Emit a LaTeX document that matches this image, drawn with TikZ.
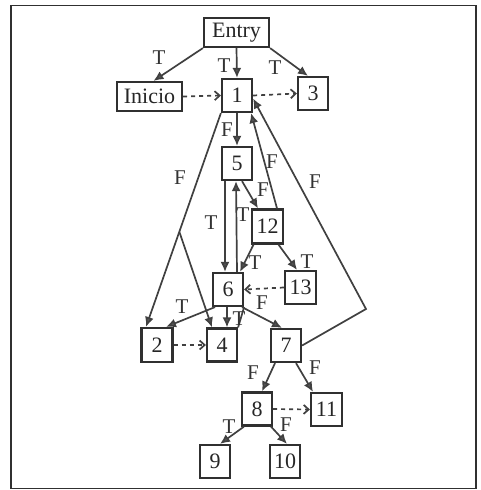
\documentclass[tikz,border=0pt]{standalone}
\usepackage{fontspec}
\setmainfont{Liberation Serif}
\usetikzlibrary{arrows.meta}
\definecolor{ln}{HTML}{404040}
\definecolor{bx}{HTML}{303030}
\definecolor{tip}{HTML}{555555}
\begin{document}
\begin{tikzpicture}[x=1pt,y=-1pt,
  box/.style={draw=bx, line width=2.2pt, fill=white, minimum width=30pt, minimum height=33pt, inner sep=2pt, font=\fontsize{22}{22}\selectfont, text=black!85},
  wbox/.style={box, minimum width=65pt, minimum height=29pt},
  edge/.style={draw=ln, line width=1.7pt, -{Latex[length=10pt,width=9pt,fill=tip]}},
  plain/.style={draw=ln, line width=1.7pt},
  dotted/.style={draw=ln, line width=1.7pt, dash pattern=on 4pt off 4pt, -{Straight Barb[length=5pt,width=9pt,line width=1.7pt]}},
  lbl/.style={font=\fontsize{21}{21}\selectfont, text=black!80, inner sep=0pt}]
\useasboundingbox (0,0) rectangle (481,490);
\draw[draw=bx, line width=1.6pt] (11,5.5) rectangle (476,488.5);

% nodes
\node[wbox] (entry) at (236.5,32.5) {Entry};
\node[wbox] (inicio) at (149.5,96.5) {Inicio};
\node[box] (n1) at (237,95.5) {1};
\node[box] (n3) at (313,93.5) {3};
\node[box] (n5) at (237,163.5) {5};
\node[box, minimum width=31pt, minimum height=34pt] (n12) at (267.5,226.5) {12};
\node[box] (n6) at (228,289.5) {6};
\node[box, minimum width=31pt] (n13) at (300.5,287.5) {13};
\node[box, minimum width=31pt, minimum height=34pt] (n2) at (157,345) {2};
\node[box] (n4) at (222,345) {4};
\node[box] (n7) at (286,345.5) {7};
\node[box] (n8) at (257,409) {8};
\node[box, minimum width=31pt] (n11) at (326.5,409.5) {11};
\node[box] (n9) at (215,461.5) {9};
\node[box] (n10) at (285,461.5) {10};
\coordinate (k7) at (366,309);

% solid edges
\draw[edge] (entry.south west) -- ([xshift=4pt]inicio.north);
\draw[edge] (entry.south) -- (n1.north);
\draw[edge] (entry.south east) -- ([xshift=-5pt]n3.north);
\draw[edge] (n1.south) -- (n5.north);
\draw[edge] (n1.south west) -- coordinate[pos=0.555] (br) ([xshift=-11pt]n2.north);
\draw[edge] (br) -- ([xshift=-10pt]n4.north);
\draw[edge] ([xshift=-12pt]n5.south) -- ([xshift=-3pt]n6.north);
\draw[edge] ([xshift=9pt]n6.north) -- ([xshift=-1pt]n5.south);
\draw[edge] ([xshift=5pt]n5.south) -- ([xshift=-9.5pt]n12.north);
\draw[edge] ([xshift=9.5pt]n12.north) -- ([xshift=-2pt]n1.south east);
\draw[edge] (n7.east) -- (k7) -- ([yshift=-3pt]n1.east);
\draw[edge] ([xshift=-14pt]n12.south) -- ([xshift=12pt]n6.north);
\draw[edge] ([xshift=11pt]n12.south) -- ([xshift=-3.5pt]n13.north);
\draw[edge] ([xshift=-13pt]n6.south) -- ([xshift=9pt]n2.north);
\draw[edge] ([xshift=-1pt]n6.south) -- ([xshift=5pt]n4.north);
\draw[plain] (n6.south east) -- (n4.north east);
\draw[edge] ([xshift=14pt]n6.south) -- ([xshift=-4pt]n7.north);
\draw[edge] ([xshift=-11pt]n7.south) -- ([xshift=5pt]n8.north);
\draw[edge] ([xshift=10pt]n7.south) -- ([xshift=-13.5pt]n11.north);
\draw[edge] ([xshift=-13pt]n8.south) -- ([xshift=5pt]n9.north);
\draw[edge] ([xshift=14pt]n8.south) -- ([xshift=2pt]n10.north);

% dotted edges
\draw[dotted] (inicio.east) -- (n1.west);
\draw[dotted] (n1.east) -- (n3.west);
\draw[dotted] (n13.west) -- (n6.east);
\draw[dotted] (n2.east) -- (n4.west);
\draw[dotted] (n8.east) -- (n11.west);

% labels
\node[lbl] (l1) at (159,58) {T};
\node[lbl] (l2) at (224,66) {T};
\node[lbl] (l3) at (275,68) {T};
\node[lbl] (l4) at (227,130) {F};
\node[lbl] (l5) at (180,178) {F};
\node[lbl] (l6) at (272,162) {F};
\node[lbl] (l7) at (315,182) {F};
\node[lbl] (l8) at (263,190) {F};
\node[lbl] (l9) at (211,223) {T};
\node[lbl] (l10) at (243,215) {T};
\node[lbl] (l11) at (255,263) {T};
\node[lbl] (l12) at (307,262) {T};
\node[lbl] (l13) at (182,307) {T};
\node[lbl] (l14) at (239,319) {T};
\node[lbl] (l15) at (262,303) {F};
\node[lbl] (l16) at (253,373) {F};
\node[lbl] (l17) at (315,368) {F};
\node[lbl] (l18) at (229,427) {T};
\node[lbl] (l19) at (286,425) {F};
\end{tikzpicture}
\end{document}
